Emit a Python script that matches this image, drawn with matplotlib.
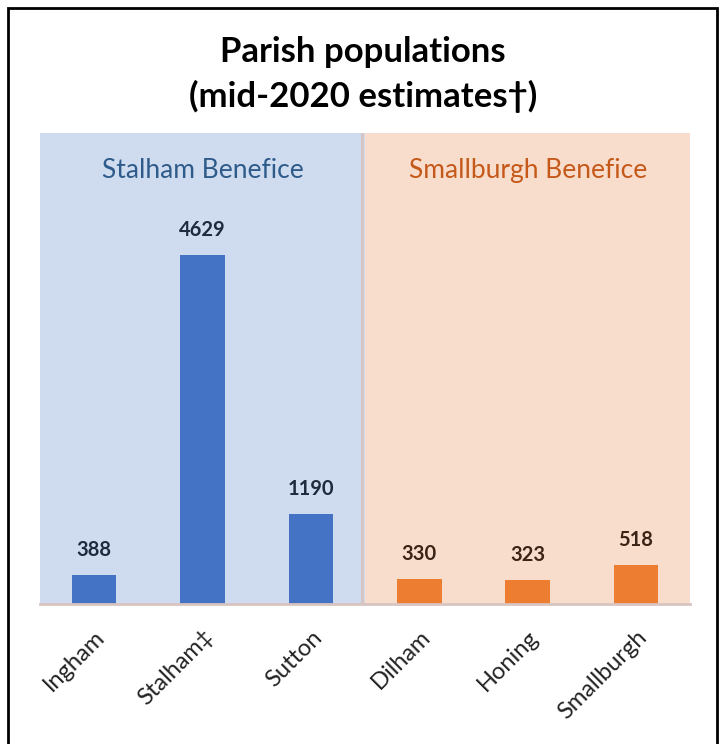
import numpy as np
import matplotlib.pyplot as plt
from matplotlib.patches import Rectangle

parishes = ["Ingham", "Stalham\u2021", "Sutton", "Dilham", "Honing", "Smallburgh"]
populations = [388, 4629, 1190, 330, 323, 518]
benefices = ["Stalham Benefice", "Smallburgh Benefice"]
benefice_sizes = [3, 3]

bar_colors = ["#4472c4"] * 3 + ["#ed7d31"] * 3
label_colors = ["#1f2a3c"] * 3 + ["#3b2416"] * 3
panel_colors = ["#cfdcf0", "#f9ddcc"]
panel_text = ["#2f5b8a", "#c5591a"]

plt.rcParams['font.family'] = ['Lato', 'DejaVu Sans']

fig = plt.figure(figsize=(7.2, 7.44), dpi=100)
ax = fig.add_axes([0.0556, 0.188, 0.903, 0.633])
x = np.arange(len(parishes))
ymax = 6250

# background panels per benefice
start = 0
for name, n, pc, tc in zip(benefices, benefice_sizes, panel_colors, panel_text):
    ax.axvspan(start - 0.5, start + n - 0.5, color=pc, zorder=0, lw=0)
    ax.text(start + (n - 1) / 2, ymax * 0.92, name, ha='center', va='center',
            fontsize=19, color=tc)
    start += n
ax.axvline(2.47, color="#d8c4c0", lw=2, zorder=1)

bars = ax.bar(x, populations, width=0.41, color=bar_colors, zorder=2)
for xi, v, c in zip(x, populations, label_colors):
    ax.text(xi, v + 200, str(v), ha='center', va='bottom', fontsize=14.5,
            fontweight='bold', color=c)

ax.set_xlim(-0.5, len(parishes) - 0.5)
ax.set_ylim(0, ymax)
ax.set_yticks([])
ax.set_xticks(x)
ax.set_xticklabels(parishes, rotation=45, ha='right', rotation_mode='anchor',
                   fontsize=17, color="#222222")
ax.tick_params(axis='x', length=0, pad=16)
for s in ['top', 'right', 'left']:
    ax.spines[s].set_visible(False)
ax.spines['bottom'].set_color("#d8c4c0")
ax.spines['bottom'].set_linewidth(2)

fig.text(0.504, 0.93, "Parish populations", ha='center', va='center',
         fontsize=25, fontweight='bold')
fig.text(0.504, 0.87, "(mid-2020 estimates\u2020)", ha='center', va='center',
         fontsize=25, fontweight='bold')

fig.patches.append(Rectangle((0.011, -0.01), 0.985, 0.999, transform=fig.transFigure,
                             fill=False, edgecolor='black', lw=2))

fig.savefig("out.png", dpi=100)
